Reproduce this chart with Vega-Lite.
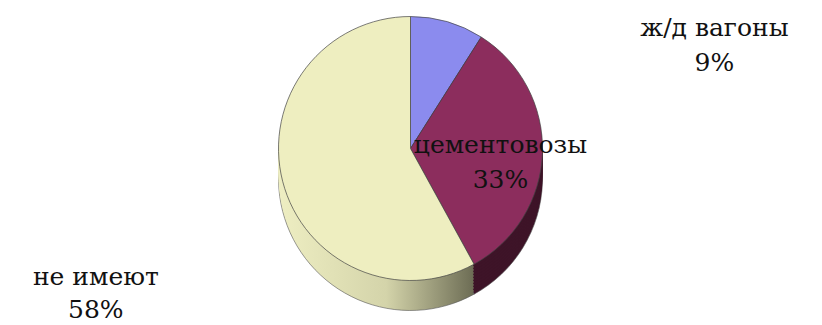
{
  "$schema": "https://vega.github.io/schema/vega-lite/v6.json",
  "autosize": {"type": "fit", "contains": "padding"},
  "width": 822,
  "height": 325,
  "background": "white",
  "view": {"stroke": null},
  "config": {"font": "DejaVu Serif", "text": {"font": "DejaVu Serif"}},
  "data": {
    "values": [
      {"cat": "ж/д вагоны", "pct": 9, "ord": 1},
      {"cat": "цементовозы", "pct": 33, "ord": 2},
      {"cat": "не имеют", "pct": 58, "ord": 3}
    ]
  },
  "encoding": {
    "theta": {"field": "pct", "type": "quantitative", "stack": true},
    "order": {"field": "ord", "type": "quantitative"}
  },
  "layer": [
    {
      "encoding": {
        "color": {
          "condition": {"test": "datum.cat === 'не имеют'", "value": {"gradient": "linear", "x1": 0, "x2": 1, "y1": 0, "y2": 0, "stops": [{"offset": 0, "color": "#eeeec2"}, {"offset": 0.55, "color": "#d4d4aa"}, {"offset": 1, "color": "#6c6c54"}]}},
          "value": "#3e1428"
        }
      },
      "layer": [
        {"mark": {"type": "arc", "radius": 132, "yOffset": 16, "stroke": "#555555", "strokeWidth": 0.6}},
        {"mark": {"type": "arc", "radius": 132, "yOffset": 13}},
        {"mark": {"type": "arc", "radius": 132, "yOffset": 10}},
        {"mark": {"type": "arc", "radius": 132, "yOffset": 7}},
        {"mark": {"type": "arc", "radius": 132, "yOffset": 4}},
        {"mark": {"type": "arc", "radius": 132, "yOffset": 1}},
        {"mark": {"type": "arc", "radius": 132, "yOffset": -2}},
        {"mark": {"type": "arc", "radius": 132, "yOffset": -5}},
        {"mark": {"type": "arc", "radius": 132, "yOffset": -8}},
        {"mark": {"type": "arc", "radius": 132, "yOffset": -11}}
      ]
    },
    {
      "mark": {"type": "arc", "radius": 132, "yOffset": -14, "stroke": "#444444", "strokeWidth": 0.7},
      "encoding": {
        "color": {
          "condition": [
            {"test": "datum.cat === 'ж/д вагоны'", "value": "#8b8bee"},
            {"test": "datum.cat === 'цементовозы'", "value": "#8c2d5d"}
          ],
          "value": "#eeeec0"
        }
      }
    },
    {
      "mark": {"type": "text", "font": "DejaVu Serif", "radius": 82, "fontSize": 25, "color": "#111111", "align": "center", "baseline": "alphabetic", "lineHeight": 35, "dx": 8, "dy": -12},
      "encoding": {
        "text": {"condition": {"test": "datum.cat === 'цементовозы'", "value": ["цементовозы", "33%"]}, "value": ""}
      }
    },
    {
      "mark": {"type": "text", "font": "DejaVu Serif", "radius": 150, "fontSize": 25, "color": "#111111", "align": "center", "baseline": "alphabetic", "lineHeight": 35, "dx": 262, "dy": 18},
      "encoding": {
        "text": {"condition": {"test": "datum.cat === 'ж/д вагоны'", "value": ["ж/д вагоны", "9%"]}, "value": ""}
      }
    },
    {
      "mark": {"type": "text", "font": "DejaVu Serif", "radius": 170, "fontSize": 25, "color": "#111111", "align": "center", "baseline": "alphabetic", "lineHeight": 33, "dx": -150, "dy": 80},
      "encoding": {
        "text": {"condition": {"test": "datum.cat === 'не имеют'", "value": ["не имеют", "58%"]}, "value": ""}
      }
    }
  ]
}
